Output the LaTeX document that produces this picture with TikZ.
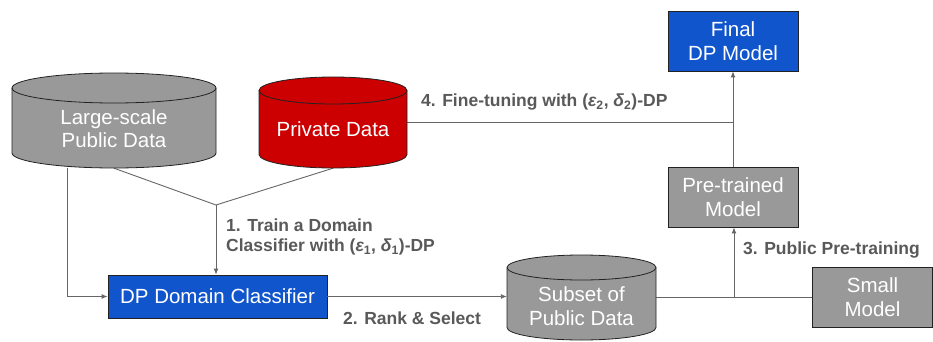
\documentclass[tikz,border=0pt]{standalone}
\usepackage{fontspec}
\setmainfont{Liberation Sans}
\usetikzlibrary{arrows.meta,calc}
\definecolor{cgray}{HTML}{999999}
\definecolor{cred}{HTML}{CC0000}
\definecolor{cblue}{HTML}{1155CC}
\definecolor{clab}{HTML}{595959}
\definecolor{cline}{HTML}{666666}
\definecolor{cborder}{HTML}{222222}
\newcommand\cylslot[5]{% name, cx, top, bottom, half width
  \node[inner sep=0, minimum width={2*#5}, minimum height={#3-#4}] (#1) at (#2,{(#3+#4)/2}) {};}
\newcommand\paintcyl[6]{% cx, top centre, bottom centre, w, ry, fill
  \filldraw[fill=#6, cylline] ({#1-#4},#2) -- ({#1-#4},#3)
    arc[start angle=180,end angle=360,x radius=#4,y radius=#5] -- ({#1+#4},#2)
    arc[start angle=0,end angle=180,x radius=#4,y radius=#5] -- cycle;
  \draw[cylline] ({#1-#4},#2) arc[start angle=180,end angle=360,x radius=#4,y radius=#5];}
\begin{document}
\begin{tikzpicture}[x=1pt,y=1pt,
  cylline/.style={draw=cborder, line width=0.8pt},
  box/.style={draw=cborder, line width=0.8pt, inner sep=0, text=white,
    font=\fontsize{20.5}{23.5}\selectfont, align=center},
  cyltxt/.style={text=white, font=\fontsize{20.5}{23.5}\selectfont, align=center, inner sep=0},
  lab/.style={text=clab, font=\bfseries\fontsize{17.5}{20.5}\selectfont, align=left, inner sep=0, anchor=west},
  conn/.style={draw=cline, line width=0.9pt},
  arr/.style={conn, -{Latex[length=6pt,width=5pt]}}]
\useasboundingbox (0,0) rectangle (933,341);
% cylinder slots
\cylslot{large}{114}{268}{173}{102}
\cylslot{private}{333}{264}{173}{74}
\cylslot{subset}{581.5}{86}{1}{74.5}
% boxes
\node[box, fill=cblue, minimum width=219, minimum height=43] (dpc) at (217.5,44.5) {DP Domain Classifier};
\node[box, fill=cgray, minimum width=130, minimum height=60] (pre) at (733,144) {Pre-trained\\Model};
\node[box, fill=cblue, minimum width=130, minimum height=60] (final) at (733,300) {Final\\DP Model};
\node[box, fill=cgray, minimum width=120, minimum height=60] (small) at (872.5,44) {Small\\Model};
% connectors
\coordinate (J) at (216,136);
\coordinate (K) at (734,44);
\draw[arr] ([xshift=56]large.south west) |- (dpc.west);
\draw[conn] (large.south) -- (J);
\draw[conn] (private.south) -- (J);
\draw[arr] (J) -- (J |- dpc.north);
\draw[arr] (dpc.east) -- (dpc.east -| subset.west);
\draw[conn] (subset.east |- small.west) -- (small.west);
\draw[arr] (K) -- (K |- pre.south);
\draw[arr] (pre.north) -- (final.south);
\draw[conn] (private.east) -- (private.east -| final.south);
% cylinders
\paintcyl{114}{253}{188}{102}{15}{cgray}
\paintcyl{333}{250.5}{186.5}{74}{13.5}{cred}
\paintcyl{581.5}{73.5}{13.5}{74.5}{12.5}{cgray}
\node[cyltxt] (largetxt) at (114,212.5) {Large-scale\\Public Data};
\node[cyltxt] (privatetxt) at (333,212) {Private Data};
\node[cyltxt] (subsettxt) at (581.5,35) {Subset of\\Public Data};
% labels
\node[lab] (l4) at (421,239) {4. Fine-tuning with ({\itshape ε}\textsubscript{2}, {\itshape δ}\textsubscript{2})-DP};
\node[lab] (l1) at (226,104) {1. Train a Domain\\Classifier with ({\itshape ε}\textsubscript{1}, {\itshape δ}\textsubscript{1})-DP};
\node[lab] (l2) at (343,23) {2. Rank \& Select};
\node[lab] (l3) at (743,91) {3. Public Pre-training};
\end{tikzpicture}
\end{document}
